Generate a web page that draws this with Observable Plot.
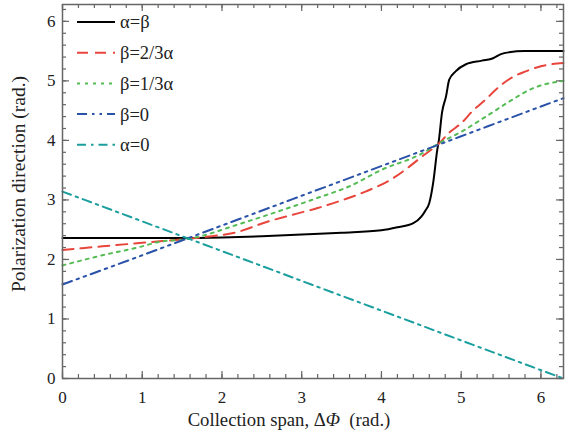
<!DOCTYPE html>
<html>
<head>
<meta charset="utf-8">
<script src="https://cdn.jsdelivr.net/npm/d3@7"></script>
<script src="https://cdn.jsdelivr.net/npm/@observablehq/plot@0.6"></script>
<style>
  html, body { margin: 0; padding: 0; background: #fff; }
  svg { display: block; }
  svg, svg text { font-family: "Liberation Serif", "Times New Roman", Times, "DejaVu Serif", serif !important; }
</style>
</head>
<body>
<div id="chart"></div>
<script>
// ---- data ----
const seriesNames = ["α=β", "β=2/3α", "β=1/3α", "β=0", "α=0"];

const xBlack = [0, 0.5, 1, 1.5, 2, 2.5, 3, 3.5, 4, 4.2, 4.4, 4.5, 4.55, 4.6, 4.65, 4.7, 4.72, 4.76, 4.81, 4.85, 4.93, 5.06, 5.26, 5.4, 5.5, 5.6, 5.79, 6.0, 6.283];
const yBlack = [2.36, 2.36, 2.36, 2.36, 2.37, 2.39, 2.42, 2.45, 2.49, 2.54, 2.61, 2.72, 2.82, 2.95, 3.3, 3.84, 4.0, 4.47, 4.74, 5.02, 5.16, 5.28, 5.34, 5.38, 5.45, 5.48, 5.5, 5.5, 5.5];

const xRed = [0, 0.5, 1, 1.6, 1.81, 2.19, 2.56, 2.94, 3.19, 3.56, 3.8, 4.14, 4.35, 4.51, 4.73, 4.85, 5.01, 5.14, 5.31, 5.44, 5.64, 5.81, 6.01, 6.283];
const yRed = [2.16, 2.22, 2.28, 2.35, 2.38, 2.46, 2.63, 2.77, 2.86, 3.02, 3.14, 3.36, 3.56, 3.73, 3.96, 4.13, 4.3, 4.49, 4.69, 4.86, 5.06, 5.16, 5.25, 5.3];

const xGreen = [0, 0.5, 1, 1.19, 1.6, 2.23, 2.69, 3.19, 3.6, 4.01, 4.48, 4.76, 4.98, 5.31, 5.6, 5.89, 6.283];
const yGreen = [1.9, 2.07, 2.22, 2.29, 2.35, 2.6, 2.8, 3.03, 3.23, 3.51, 3.76, 3.98, 4.13, 4.4, 4.65, 4.87, 5.0];

const xBlue = [0, 1, 2, 3, 4, 5, 6, 6.283];
const yBlue = [1.58, 2.07, 2.57, 3.07, 3.57, 4.07, 4.57, 4.71];

const xTeal = [0, 1, 2, 3, 4, 5, 6, 6.283];
const yTeal = [3.14, 2.64, 2.14, 1.64, 1.14, 0.64, 0.14, 0.0];

const xTicks = [0, 1, 2, 3, 4, 5, 6];
const yTicks = [0, 1, 2, 3, 4, 5, 6];
const xMinor = d3.range(0, 6.3, 0.2).map(v => +v.toFixed(1));
const yMinor = d3.range(0, 6.3, 0.2).map(v => +v.toFixed(1));

// ---- styles ----
const styles = [
  {color: "#000000", dash: null},
  {color: "#e8453c", dash: "11,7"},
  {color: "#55bb55", dash: "3,5"},
  {color: "#2a52a8", dash: "10,5,2.5,5,2.5,5"},
  {color: "#1a9e9e", dash: "9,5,2.5,5"}
];
const xs = [xBlack, xRed, xGreen, xBlue, xTeal];
const ys = [yBlack, yRed, yGreen, yBlue, yTeal];

const W = 567, H = 437, mL = 62, mR = 4, mT = 4, mB = 59;
const pW = W - mL - mR, pH = H - mT - mB;
const axisColor = "#666";
const font = "Liberation Serif, Times New Roman, serif";

const lineMarks = seriesNames.map((name, i) => {
  const data = xs[i].map((x, j) => ({x, y: ys[i][j]}));
  return Plot.line(data, {
    x: "x", y: "y", stroke: styles[i].color, strokeWidth: 2,
    strokeDasharray: styles[i].dash, curve: "monotone-x"
  });
});

const chart = Plot.plot({
  width: W, height: H,
  marginLeft: mL, marginRight: mR, marginTop: mT, marginBottom: mB,
  style: {fontFamily: font, fontSize: "17px", color: "#222", background: "#fff"},
  x: {domain: [0, 2 * Math.PI]},
  y: {domain: [0, 2 * Math.PI]},
  marks: [
    Plot.tickX(xMinor, {x: d => d, insetTop: pH - 4, stroke: axisColor, strokeWidth: 1.2}),
    Plot.tickX(xMinor, {x: d => d, insetBottom: pH - 4, stroke: axisColor, strokeWidth: 1.2}),
    Plot.tickX(xTicks, {x: d => d, insetTop: pH - 7, stroke: axisColor, strokeWidth: 1.2}),
    Plot.tickX(xTicks, {x: d => d, insetBottom: pH - 7, stroke: axisColor, strokeWidth: 1.2}),
    Plot.tickY(yMinor, {y: d => d, insetRight: pW - 4, stroke: axisColor, strokeWidth: 1.2}),
    Plot.tickY(yMinor, {y: d => d, insetLeft: pW - 4, stroke: axisColor, strokeWidth: 1.2}),
    Plot.tickY(yTicks, {y: d => d, insetRight: pW - 7, stroke: axisColor, strokeWidth: 1.2}),
    Plot.tickY(yTicks, {y: d => d, insetLeft: pW - 7, stroke: axisColor, strokeWidth: 1.2}),
    Plot.axisX({ticks: xTicks, tickFormat: d => String(d), tickSize: 0, tickPadding: 12, label: null, fontSize: 17, fontFamily: font}),
    Plot.axisY({ticks: yTicks, tickFormat: d => String(d), tickSize: 0, tickPadding: 7, label: null, fontSize: 17, fontFamily: font}),
    ...lineMarks,
    Plot.frame({stroke: axisColor, strokeWidth: 1.5})
  ]
});

document.getElementById("chart").appendChild(chart);

// ---- axis titles and legend ----
const svg = d3.select(chart);

const xt = svg.append("text")
  .attr("x", 289).attr("y", 426)
  .attr("text-anchor", "middle")
  .attr("font-size", 18.7).attr("fill", "#222");
xt.append("tspan").text("Collection span, Δ");
xt.append("tspan").attr("font-style", "italic").text("Φ");
xt.append("tspan").text("\u00a0 (rad.)");

svg.append("text")
  .attr("transform", "translate(25,184) rotate(-90)")
  .attr("text-anchor", "middle")
  .attr("font-size", 19.5).attr("fill", "#222")
  .text("Polarization direction (rad.)");

const leg = svg.append("g");
seriesNames.forEach((name, i) => {
  const yy = 22 + i * 30.7;
  leg.append("line")
    .attr("x1", 77).attr("x2", 115).attr("y1", yy).attr("y2", yy)
    .attr("stroke", styles[i].color).attr("stroke-width", 2)
    .attr("stroke-dasharray", styles[i].dash);
  leg.append("text")
    .attr("x", 120).attr("y", yy).attr("dy", "0.35em")
    .attr("text-anchor", "start")
    .attr("font-size", 18.5).attr("fill", "#222")
    .text(name);
});
</script>
</body>
</html>
